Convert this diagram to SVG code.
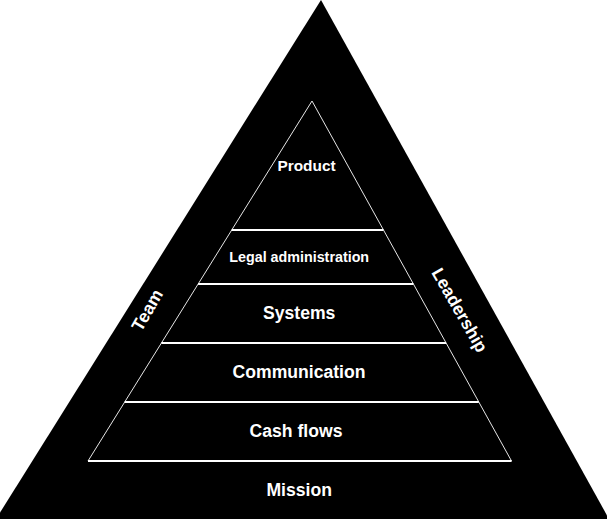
<svg xmlns="http://www.w3.org/2000/svg" width="607" height="519" viewBox="0 0 607 519">
  <style>
    .lbl { font-family: "Liberation Sans", Arial, sans-serif; font-weight: bold; fill: #ffffff; text-anchor: middle; }
    .big { font-size: 17.6px; }
    .sep { stroke: #ffffff; stroke-width: 2; fill: none; }
    .edge { stroke: #e6e6e6; stroke-width: 1; fill: none; }
  </style>
  <rect x="0" y="0" width="607" height="519" fill="#ffffff"/>
  <g id="outer">
    <polygon points="321,0 -4,519 609,519" fill="#000000"/>
  </g>
  <g id="inner">
    <polygon class="edge" points="312,101 88,461 511.5,461"/>
  </g>
  <g id="connectors">
    <line class="sep" x1="231.7" y1="230" x2="383.5" y2="230"/>
    <line class="sep" x1="198.1" y1="284" x2="413.4" y2="284"/>
    <line class="sep" x1="161.4" y1="343" x2="446.1" y2="343"/>
    <line class="sep" x1="124.7" y1="402" x2="478.8" y2="402"/>
    <line class="sep" x1="88" y1="461" x2="511.5" y2="461"/>
  </g>
  <g id="product"><text class="lbl" x="306.5" y="171" font-size="15.4">Product</text></g>
  <g id="legal"><text class="lbl" x="299.2" y="261.7" font-size="14.3">Legal administration</text></g>
  <g id="systems"><text class="lbl big" x="299.2" y="319">Systems</text></g>
  <g id="communication"><text class="lbl big" x="299" y="377.7">Communication</text></g>
  <g id="cashflows"><text class="lbl big" x="296" y="436.7">Cash flows</text></g>
  <g id="mission"><text class="lbl big" x="299.2" y="496">Mission</text></g>
  <g id="team"><text class="lbl big" transform="translate(147,310) rotate(-60)" x="0" y="6.3">Team</text></g>
  <g id="leadership"><text class="lbl big" transform="translate(460,310) rotate(60)" x="0" y="6.3">Leadership</text></g>
</svg>
